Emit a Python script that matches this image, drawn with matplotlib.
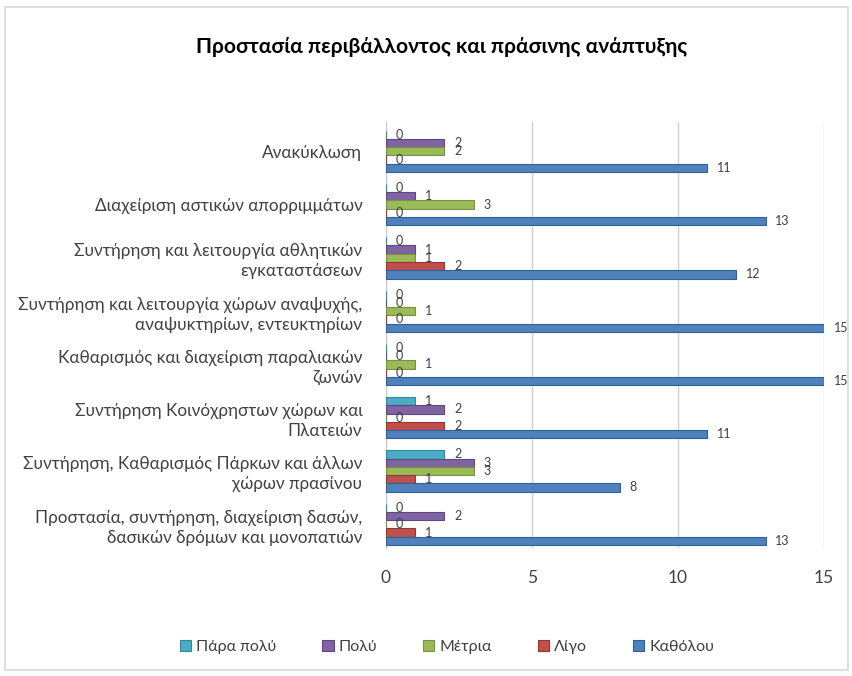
import matplotlib
matplotlib.use("Agg")
import matplotlib.pyplot as plt
from matplotlib.patches import Rectangle
import numpy as np

plt.rcParams['font.family'] = ['Lato', 'DejaVu Sans']

categories = [
    "Ανακύκλωση",
    "Διαχείριση αστικών απορριμμάτων",
    "Συντήρηση και λειτουργία αθλητικών\nεγκαταστάσεων",
    "Συντήρηση και λειτουργία χώρων αναψυχής,\nαναψυκτηρίων, εντευκτηρίων",
    "Καθαρισμός και διαχείριση παραλιακών\nζωνών",
    "Συντήρηση Κοινόχρηστων χώρων και\nΠλατειών",
    "Συντήρηση, Καθαρισμός Πάρκων και άλλων\nχώρων πρασίνου",
    "Προστασία, συντήρηση, διαχείριση δασών,\nδασικών δρόμων και μονοπατιών",
]
series = ["Πάρα πολύ", "Πολύ", "Μέτρια", "Λίγο", "Καθόλου"]
para_poly = [0, 0, 0, 0, 0, 1, 2, 0]
poly = [2, 1, 1, 0, 0, 2, 3, 2]
metria = [2, 3, 1, 1, 1, 0, 3, 0]
ligo = [0, 0, 2, 0, 0, 2, 1, 1]
katholou = [11, 13, 12, 15, 15, 11, 8, 13]
values = [para_poly, poly, metria, ligo, katholou]

colors = ["#4BACC6", "#8064A2", "#9BBB59", "#C0504D", "#4F81BD"]
edges = ["#2E8AA3", "#5E4680", "#76933C", "#943633", "#2F5F98"]

fig = plt.figure(figsize=(8.53, 6.76), dpi=100)
ax = fig.add_axes([0.4525, 0.189, 0.5135, 0.6305])

y = np.arange(len(categories))
h = 0.155
for i, (name, vals) in enumerate(zip(series, values)):
    bars = ax.barh(y + (i - 2) * h, vals, height=h, color=colors[i],
                   edgecolor=edges[i], linewidth=0.8, label=name, zorder=3)
    ax.bar_label(bars, padding=7, fontsize=9, color="#404040")

ax.set_ylim(7.45, -0.55)
ax.set_xlim(0, 15)
ax.set_xticks([0, 5, 10, 15])
ax.set_yticks(y)
ax.set_yticklabels(categories, fontsize=12.3, color="#404040", linespacing=1.3)
ax.tick_params(axis="x", labelsize=12.5, colors="#404040", length=0, pad=16)
ax.tick_params(axis="y", length=0, pad=17)
ax.grid(axis="x", color="#D0D0D0", linewidth=1, zorder=0)
for s in ["top", "right", "bottom"]:
    ax.spines[s].set_visible(False)
ax.spines["left"].set_color("#C8C8C8")

fig.text(0.518, 0.93, "Προστασία περιβάλλοντος και πράσινης ανάπτυξης",
         ha="center", va="center", fontsize=15, fontweight="bold", color="black")

handles, labels = ax.get_legend_handles_labels()
fig.legend(handles, labels, loc="center", bbox_to_anchor=(0.524, 0.043), ncol=5,
           frameon=False, fontsize=11.5, handlelength=0.7, handleheight=0.7,
           handletextpad=0.3, columnspacing=2.9, labelcolor="#404040")

fig.patches.append(Rectangle((0.006, 0.009), 0.988, 0.98, transform=fig.transFigure,
                             fill=False, edgecolor="#D9D9D9", linewidth=1.2))

fig.savefig("out.png", dpi=100)
